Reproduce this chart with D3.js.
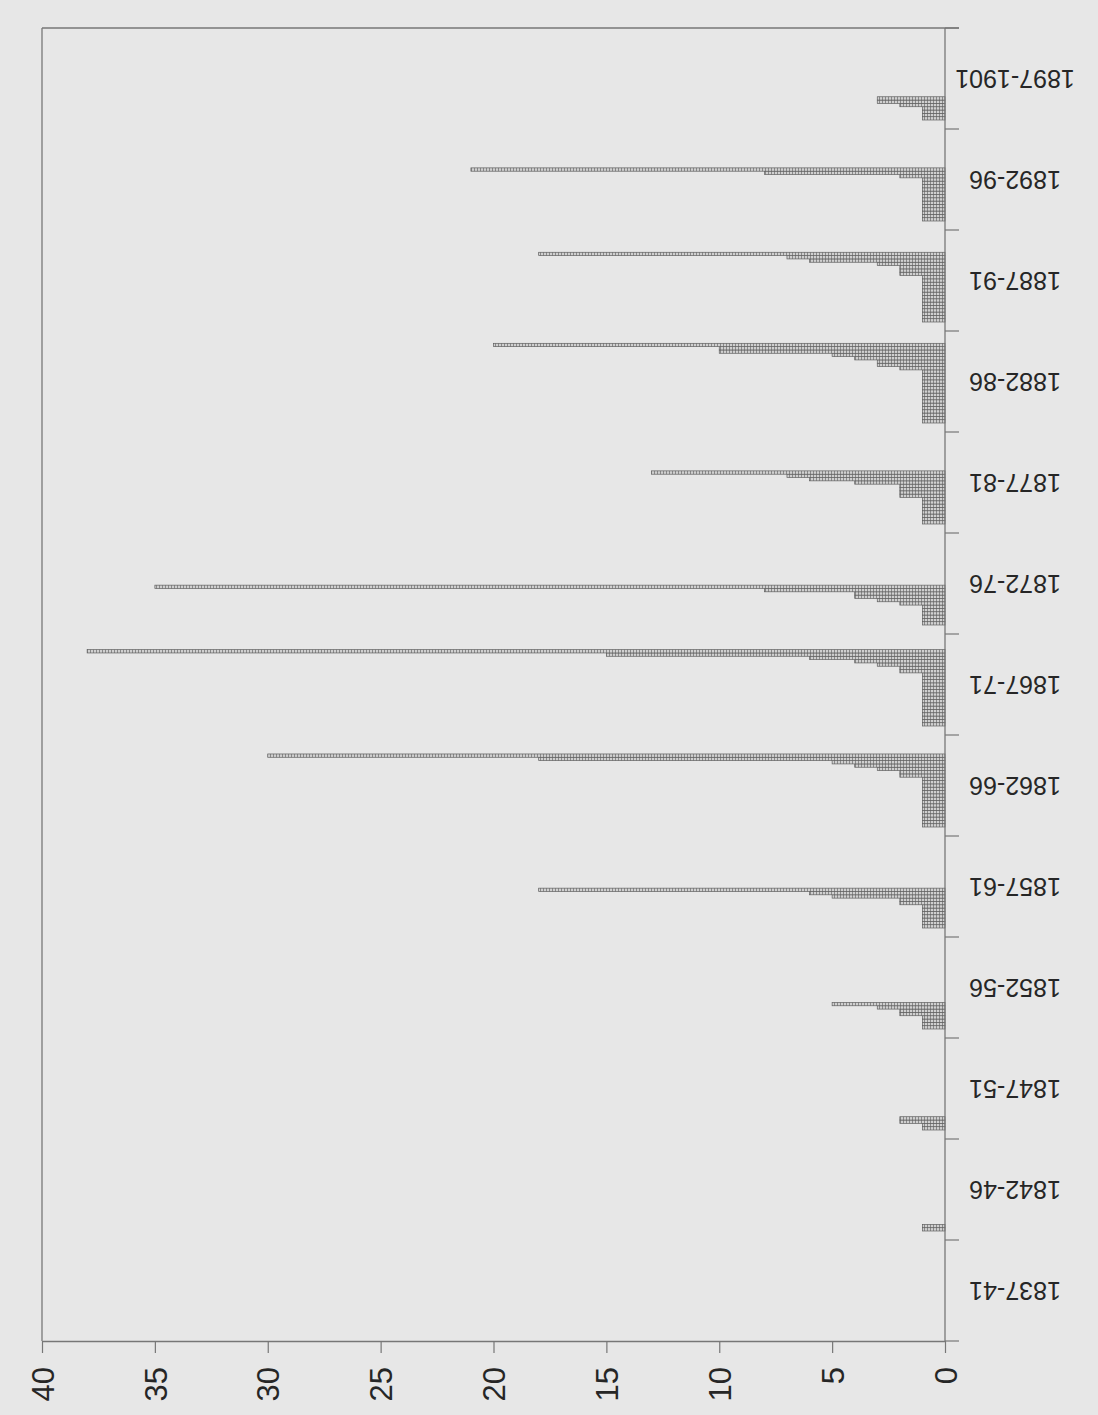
<!DOCTYPE html>
<html><head><meta charset="utf-8">
<script src="https://cdn.jsdelivr.net/npm/d3@7"></script>
<style>html,body{margin:0;padding:0;background:#e8e8e8;} svg{display:block}</style>
</head><body><svg id="c" width="1098" height="1415"></svg>
<script>
// Categories (five-year periods), bottom to top in the picture
const categories = ["1837-41","1842-46","1847-51","1852-56","1857-61","1862-66","1867-71","1872-76","1877-81","1882-86","1887-91","1892-96","1897-1901"];
// Values of each bar in a period, listed from the axis-side start of the cluster outward
const bars1837 = [];
const bars1842 = [1,1];
const bars1847 = [1,1,2,2];
const bars1852 = [1,1,1,1,2,2,3,5];
const bars1857 = [1,1,1,1,1,1,1,2,2,5,6,18];
const bars1862 = [1,1,1,1,1,1,1,1,1,1,1,1,1,1,1,2,2,3,4,5,18,30];
const bars1867 = [1,1,1,1,1,1,1,1,1,1,1,1,1,1,1,1,2,2,3,4,6,15,38];
const bars1872 = [1,1,1,1,1,1,2,3,4,4,8,35];
const bars1877 = [1,1,1,1,1,1,1,1,2,2,2,2,4,6,7,13];
const bars1882 = [1,1,1,1,1,1,1,1,1,1,1,1,1,1,1,1,2,3,3,4,5,10,10,20];
const bars1887 = [1,1,1,1,1,1,1,1,1,1,1,1,1,1,2,2,2,3,6,7,18];
const bars1892 = [1,1,1,1,1,1,1,1,1,1,1,1,1,2,8,21];
const bars1897 = [1,1,1,1,2,3,3];
const barsByCategory = [bars1837,bars1842,bars1847,bars1852,bars1857,bars1862,bars1867,bars1872,bars1877,bars1882,bars1887,bars1892,bars1897];
const valueTicks = [0,5,10,15,20,25,30,35,40];

const W = 1098, H = 1415;
const pLeft = 42, pRight = 945, pTop = 28, pBottom = 1341;
const axisColor = "#777";
const textColor = "#262626";
const svg = d3.select("#c");
svg.append("rect").attr("width", W).attr("height", H).attr("fill", "#e7e7e7");

const defs = svg.append("defs");
const pat = defs.append("pattern").attr("id", "hatch").attr("patternUnits", "userSpaceOnUse")
  .attr("width", 3).attr("height", 4);
pat.append("rect").attr("width", 3).attr("height", 4).attr("fill", "#d0d0d0");
pat.append("rect").attr("width", 1).attr("height", 4).attr("fill", "#8a8a8a");

const x = d3.scaleLinear().domain([0, 40]).range([pRight, pLeft]);
const y = d3.scaleBand().domain(categories.slice().reverse()).range([pTop, pBottom]).padding(0);
const maxSlots = 25;
const inner = d3.scaleBand().domain(d3.range(maxSlots)).range([y.bandwidth() - 9, 9]);

// frame lines (top and left)
svg.append("line").attr("x1", pLeft).attr("x2", pRight + 14).attr("y1", pTop).attr("y2", pTop)
  .attr("stroke", axisColor).attr("stroke-width", 1.3);
svg.append("line").attr("x1", pLeft).attr("x2", pLeft).attr("y1", pTop).attr("y2", pBottom)
  .attr("stroke", axisColor).attr("stroke-width", 1.3);

// bars
const flat = [];
categories.forEach((c, ci) => barsByCategory[ci].forEach((v, i) => flat.push({c, i, v})));
svg.append("g").selectAll("rect").data(flat).join("rect")
  .attr("x", d => x(d.v))
  .attr("y", d => y(d.c) + inner(d.i))
  .attr("width", d => x(0) - x(d.v))
  .attr("height", inner.bandwidth())
  .attr("fill", "url(#hatch)")
  .attr("stroke", "#5e5e5e")
  .attr("stroke-width", 0.7);

// value axis (bottom)
const gx = svg.append("g").attr("transform", `translate(0,${pBottom})`)
  .call(d3.axisBottom(x).tickValues(valueTicks).tickSize(12).tickSizeOuter(0).tickFormat(d3.format("d")));
gx.select(".domain").attr("stroke", axisColor).attr("stroke-width", 1.3);
gx.selectAll(".tick line").attr("stroke", axisColor).attr("stroke-width", 1.2);
gx.selectAll(".tick text")
  .attr("transform", "rotate(-90)")
  .attr("x", -26).attr("y", 0).attr("dy", "0.36em")
  .attr("text-anchor", "end")
  .attr("fill", textColor)
  .style("font-family", "'Liberation Sans', Arial, sans-serif")
  .style("font-size", "31px");

// category axis (right side)
svg.append("line").attr("x1", pRight).attr("x2", pRight).attr("y1", pTop).attr("y2", pBottom)
  .attr("stroke", axisColor).attr("stroke-width", 1.3);
const bounds = categories.map(c => y(c)).concat([pBottom]);
svg.append("g").selectAll("line").data(bounds).join("line")
  .attr("x1", pRight).attr("x2", pRight + 14)
  .attr("y1", d => d).attr("y2", d => d)
  .attr("stroke", axisColor).attr("stroke-width", 1.2);
svg.append("g").selectAll("text").data(categories).join("text")
  .attr("transform", c => `translate(1015,${y(c) + y.bandwidth() / 2}) rotate(180)`)
  .attr("text-anchor", "middle")
  .attr("dy", "0.36em")
  .attr("fill", textColor)
  .style("font-family", "'Liberation Sans', Arial, sans-serif")
  .style("font-size", "25px")
  .text(c => c);
</script>
</body></html>
